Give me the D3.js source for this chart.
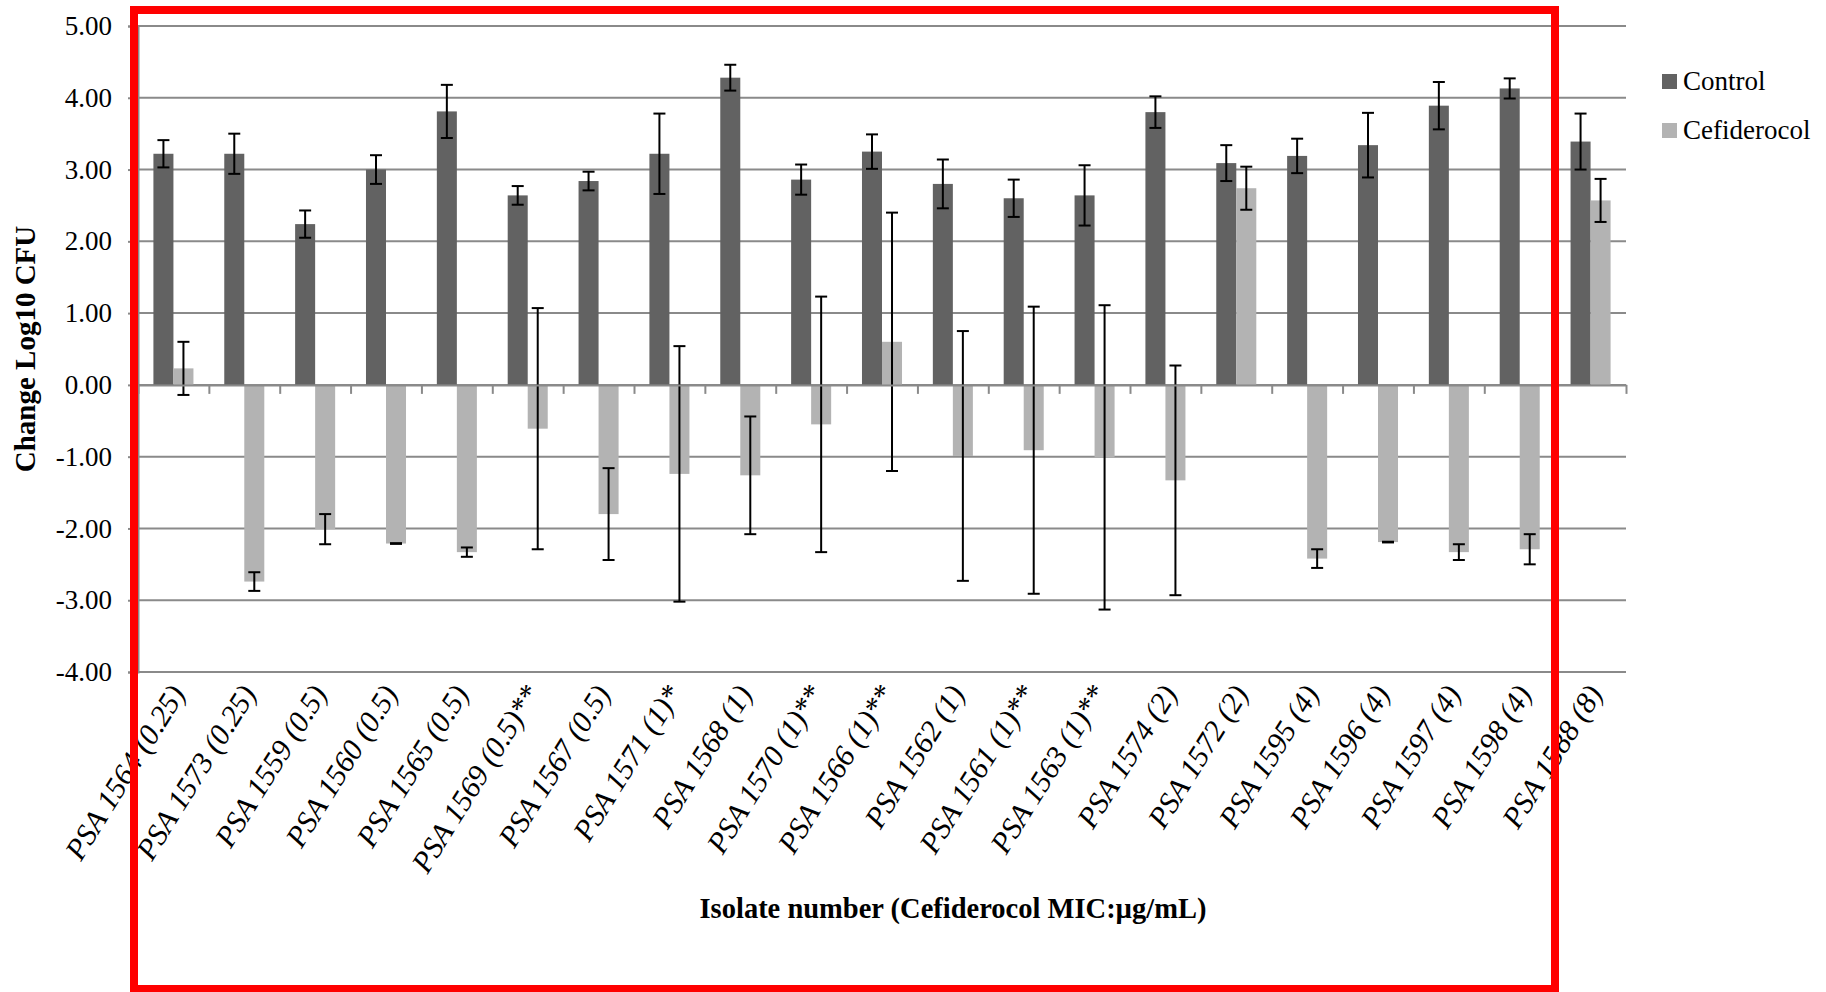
<!DOCTYPE html>
<html>
<head>
<meta charset="utf-8">
<script src="https://cdnjs.cloudflare.com/ajax/libs/d3/7.8.5/d3.min.js"></script>
<style>
  html, body { margin: 0; padding: 0; background: #fff; }
  svg { display: block; font-family: "Liberation Serif", "Times New Roman", serif; }
</style>
</head>
<body>
<div id="chart"></div>
<script>
// isolates (MIC in brackets)
const categories = [
    "PSA 1564 (0.25)", "PSA 1573 (0.25)", "PSA 1559 (0.5)", "PSA 1560 (0.5)",
    "PSA 1565 (0.5)", "PSA 1569 (0.5)**", "PSA 1567 (0.5)", "PSA 1571 (1)*",
    "PSA 1568 (1)", "PSA 1570 (1)**", "PSA 1566 (1)**", "PSA 1562 (1)",
    "PSA 1561 (1)**", "PSA 1563 (1)**", "PSA 1574 (2)", "PSA 1572 (2)",
    "PSA 1595 (4)", "PSA 1596 (4)", "PSA 1597 (4)", "PSA 1598 (4)", "PSA 1588 (8)"
];
const seriesNames = ["Control", "Cefiderocol"];

const controlValues = [3.22, 3.22, 2.24, 3.00, 3.81, 2.64, 2.84, 3.22, 4.28, 2.86, 3.25,
    2.80, 2.60, 2.64, 3.80, 3.09, 3.19, 3.34, 3.89, 4.13, 3.39];
const controlErr = [0.19, 0.28, 0.19, 0.20, 0.37, 0.13, 0.13, 0.56, 0.18, 0.21, 0.24,
    0.34, 0.26, 0.42, 0.22, 0.25, 0.24, 0.45, 0.33, 0.14, 0.39];

const cefValues = [0.23, -2.74, -2.01, -2.21, -2.33, -0.61, -1.80, -1.24, -1.26, -0.55, 0.60,
    -0.99, -0.91, -1.01, -1.33, 2.74, -2.42, -2.19, -2.33, -2.29, 2.57];
const cefErr = [0.37, 0.13, 0.21, 0.005, 0.065, 1.68, 0.64, 1.78, 0.82, 1.78, 1.80,
    1.74, 2.00, 2.12, 1.60, 0.30, 0.13, 0.005, 0.11, 0.21, 0.30];

const yTicks = [5, 4, 3, 2, 1, 0, -1, -2, -3, -4];

const colors = { "Control": "#626262", "Cefiderocol": "#b3b3b3" };
const serif = '"Liberation Serif", "Times New Roman", serif';

const width = 1826, height = 992;
const plot = { left: 138, right: 1626, top: 26, bottom: 672 };

let svg = d3.select('#chart').append('svg')
    .attr('width', width)
    .attr('height', height)
    .attr('font-family', serif);

const x0 = d3.scaleBand()
    .domain(categories)
    .range([plot.left, plot.right])
    .paddingInner(0)
    .paddingOuter(0);

const x1 = d3.scaleBand()
    .domain(seriesNames)
    .range([0, x0.bandwidth()])
    .paddingInner(0)
    .paddingOuter(0.77);

// boundaries between categories, for the x tick marks
const xEdge = d3.scaleLinear()
    .domain([0, categories.length])
    .range([plot.left, plot.right]);

const y = d3.scaleLinear()
    .domain([-4, 5])
    .range([plot.bottom, plot.top]);

const fmt = d3.formatLocale({ decimal: ".", thousands: ",", grouping: [3], currency: ["", ""], minus: "-" }).format(".2f");

// gridlines
svg.append('g')
    .selectAll('line')
    .data(yTicks)
    .join('line')
    .attr('x1', plot.left)
    .attr('x2', plot.right)
    .attr('y1', d => y(d))
    .attr('y2', d => y(d))
    .attr('stroke', '#8a8a8a')
    .attr('stroke-width', 2);

// y axis
const yAxis = svg.append('g')
    .attr('transform', `translate(${plot.left},0)`)
    .call(d3.axisLeft(y).tickValues(yTicks).tickFormat(fmt).tickSize(10).tickPadding(16))
    .attr('font-family', serif);
yAxis.select('.domain').attr('stroke', '#8a8a8a').attr('stroke-width', 2);
yAxis.selectAll('.tick line').attr('stroke', '#8a8a8a').attr('stroke-width', 2);
yAxis.selectAll('.tick text')
    .attr('font-size', 27)
    .attr('fill', '#000');

// data rows
const rows = categories.map((c, i) => ({
    cat: c,
    vals: [
        { key: "Control", v: controlValues[i], e: controlErr[i] },
        { key: "Cefiderocol", v: cefValues[i], e: cefErr[i] }
    ]
}));

const groups = svg.append('g')
    .selectAll('g')
    .data(rows)
    .join('g')
    .attr('transform', d => `translate(${x0(d.cat)},0)`);

groups.selectAll('rect')
    .data(d => d.vals)
    .join('rect')
    .attr('x', d => x1(d.key))
    .attr('width', x1.bandwidth())
    .attr('y', d => y(Math.max(0, d.v)))
    .attr('height', d => Math.abs(y(d.v) - y(0)))
    .attr('fill', d => colors[d.key]);

// x axis line + boundary ticks
const xAxis = svg.append('g')
    .attr('transform', `translate(0,${y(0)})`)
    .call(d3.axisBottom(xEdge).tickValues(d3.range(categories.length + 1)).tickFormat('').tickSize(9).tickSizeOuter(0));
xAxis.select('.domain').attr('stroke', '#8a8a8a').attr('stroke-width', 2);
xAxis.selectAll('.tick line').attr('stroke', '#8a8a8a').attr('stroke-width', 2);

// error bars
const cap = 6;
const errs = groups.selectAll('g.err')
    .data(d => d.vals)
    .join('g')
    .attr('class', 'err')
    .attr('transform', d => `translate(${x1(d.key) + x1.bandwidth() / 2},0)`)
    .attr('stroke', '#000')
    .attr('stroke-width', 2);

errs.append('line')
    .attr('y1', d => y(d.v + d.e))
    .attr('y2', d => y(d.v - d.e));
errs.append('line')
    .attr('x1', -cap).attr('x2', cap)
    .attr('y1', d => y(d.v + d.e))
    .attr('y2', d => y(d.v + d.e));
errs.append('line')
    .attr('x1', -cap).attr('x2', cap)
    .attr('y1', d => y(d.v - d.e))
    .attr('y2', d => y(d.v - d.e));

// category labels
svg.append('g')
    .selectAll('text')
    .data(categories)
    .join('text')
    .attr('transform', d => `translate(${x0(d) + x0.bandwidth() / 2 + 4},${plot.bottom + 16}) rotate(-58)`)
    .attr('text-anchor', 'end')
    .attr('dy', '0.35em')
    .attr('font-size', 30)
    .attr('font-style', 'italic')
    .attr('font-family', serif)
    .text(d => d);

// axis titles
svg.append('text')
    .attr('x', 953)
    .attr('y', 918)
    .attr('text-anchor', 'middle')
    .attr('font-size', 28.5)
    .attr('font-weight', 'bold')
    .text('Isolate number (Cefiderocol MIC:µg/mL)');

svg.append('text')
    .attr('transform', `translate(35,${(plot.top + plot.bottom) / 2}) rotate(-90)`)
    .attr('text-anchor', 'middle')
    .attr('font-size', 29)
    .attr('font-weight', 'bold')
    .text('Change Log10 CFU');

// legend
const legend = svg.append('g')
    .selectAll('g')
    .data(seriesNames)
    .join('g')
    .attr('transform', (d, i) => `translate(1662,${74 + i * 49})`);
legend.append('rect')
    .attr('width', 15)
    .attr('height', 15)
    .attr('fill', d => colors[d]);
legend.append('text')
    .attr('x', 21)
    .attr('y', 16)
    .attr('font-size', 27)
    .text(d => d);

// red highlight box
svg.append('rect')
    .attr('x', 134)
    .attr('y', 10)
    .attr('width', 1421)
    .attr('height', 979)
    .attr('fill', 'none')
    .attr('stroke', '#ff0000')
    .attr('stroke-width', 8);
</script>
</body>
</html>
